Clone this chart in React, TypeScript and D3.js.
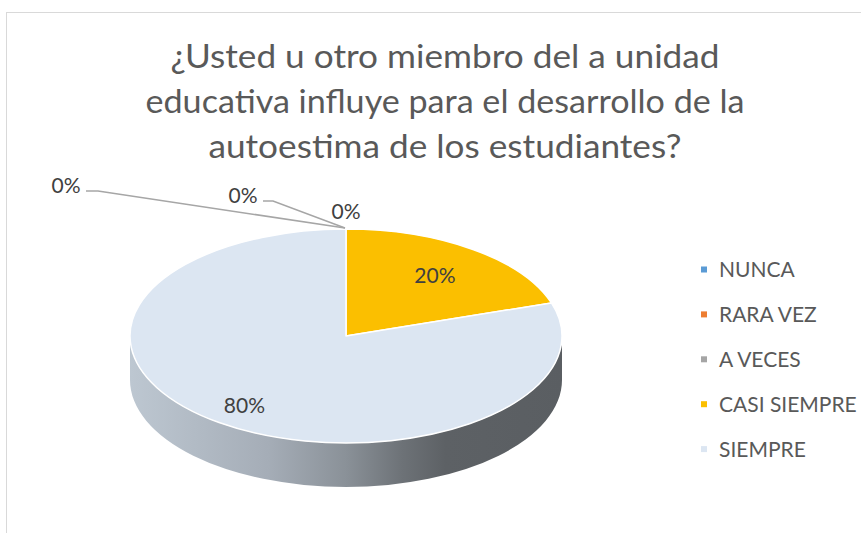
import React from "react";
import * as d3 from "d3";

const categories = ["NUNCA", "RARA VEZ", "A VECES", "CASI SIEMPRE", "SIEMPRE"];
const values = [0, 0, 0, 20, 80];
const colors = ["#5b9bd5", "#ed7d31", "#a5a5a5", "#fbbf00", "#dce6f2"];
const titleLines = [
  "¿Usted u otro miembro del a unidad",
  "educativa influye para el desarrollo de la",
  "autoestima de los estudiantes?",
];

const W = 861;
const H = 533;
const cx = 346;
const cy = 336;
const rx = 216;
const ry = 107;
const depth = 44;
const font = "Lato, 'Open Sans', sans-serif";

const pt = (a: number, k = 1): [number, number] => [
  cx + k * rx * Math.sin(a),
  cy - k * ry * Math.cos(a),
];

export default function App() {
  const total = d3.sum(values);
  const arcs = d3
    .pie<number>()
    .sort(null)
    .startAngle(0)
    .endAngle(2 * Math.PI)(values);

  const topPath = (a0: number, a1: number) => {
    const p0 = pt(a0);
    const p1 = pt(a1);
    const large = a1 - a0 > Math.PI ? 1 : 0;
    return `M${cx},${cy}L${p0[0]},${p0[1]}A${rx},${ry} 0 ${large} 1 ${p1[0]},${p1[1]}Z`;
  };
  const sidePath = (a0: number, a1: number) => {
    const s = Math.max(a0, Math.PI / 2);
    const e = Math.min(a1, (3 * Math.PI) / 2);
    if (e <= s) return null;
    const p0 = pt(s);
    const p1 = pt(e);
    return `M${p0[0]},${p0[1]}A${rx},${ry} 0 0 1 ${p1[0]},${p1[1]}L${p1[0]},${p1[1] + depth}A${rx},${ry} 0 0 0 ${p0[0]},${p0[1] + depth}Z`;
  };

  const pct = d3.format(".0%");
  const anchor = pt(0);
  // manual placements for zero-value labels (Excel best-fit with leaders)
  const zeroLabels = [
    { x: 66, y: 193, leader: [[86, 191], [98, 191]] },
    { x: 243, y: 203, leader: [[263, 201], [273, 201]] },
    { x: 346, y: 219, leader: null },
  ];
  const labelK = [0.7, 0.8];

  let zi = 0;
  let nzi = 0;

  const legendY0 = 269.5;
  const legendStep = 44.9;

  return (
    <svg
      width={W}
      height={H}
      style={{ position: "absolute", left: 0, top: 0, background: "#fff" }}
      fontFamily={font}
    >
      <defs>
        <linearGradient id="sideGrad" gradientUnits="userSpaceOnUse" x1={cx - rx} x2={cx + rx} y1={0} y2={0}>
          <stop offset="0" stopColor="#bdc7d1" />
          <stop offset="0.32" stopColor="#a5adb7" />
          <stop offset="0.5" stopColor="#8a9198" />
          <stop offset="0.63" stopColor="#6d7277" />
          <stop offset="0.73" stopColor="#5d6165" />
          <stop offset="1" stopColor="#5a5e62" />
        </linearGradient>
      </defs>
      <rect x={6.5} y={12.5} width={1000} height={700} fill="#fff" stroke="#d9d9d9" strokeWidth={1} />

      {titleLines.map((t, i) => (
        <text
          key={i}
          x={445}
          y={68 + i * 45}
          textAnchor="middle"
          fontSize={32}
          fill="#595959"
          textLength={[549, 599, 473][i]}
          lengthAdjust="spacingAndGlyphs"
        >
          {t}
        </text>
      ))}

      {arcs.map((a, i) => {
        const d = sidePath(a.startAngle, a.endAngle);
        return d ? <path key={"s" + i} d={d} fill="url(#sideGrad)" /> : null;
      })}
      {arcs.map((a, i) =>
        a.endAngle - a.startAngle > 0 ? (
          <path
            key={"t" + i}
            d={topPath(a.startAngle, a.endAngle)}
            fill={colors[i]}
            stroke="#fff"
            strokeWidth={1.5}
            strokeLinejoin="round"
          />
        ) : null
      )}

      {arcs.map((a, i) => {
        const frac = values[i] / total;
        if (values[i] === 0) {
          const z = zeroLabels[zi++];
          return (
            <g key={"l" + i}>
              {z.leader && (
                <polyline
                  points={[...z.leader, [anchor[0] - 1, anchor[1] - 1]].map((p) => p.join(",")).join(" ")}
                  fill="none"
                  stroke="#a6a6a6"
                  strokeWidth={1.5}
                />
              )}
              <text x={z.x} y={z.y} textAnchor="middle" fontSize={21} fill="#404040">
                {pct(frac)}
              </text>
            </g>
          );
        }
        const mid = (a.startAngle + a.endAngle) / 2;
        const p = pt(mid, labelK[nzi++]);
        return (
          <text key={"l" + i} x={p[0]} y={p[1] + 7.5} textAnchor="middle" fontSize={21} fill="#404040">
            {pct(frac)}
          </text>
        );
      })}

      {categories.map((c, i) => {
        const y = legendY0 + i * legendStep;
        return (
          <g key={"lg" + i}>
            <rect x={701} y={y - 3} width={6} height={6} fill={colors[i]} />
            <text x={719} y={y + 7.5} fontSize={21} fill="#595959">
              {c}
            </text>
          </g>
        );
      })}
    </svg>
  );
}
